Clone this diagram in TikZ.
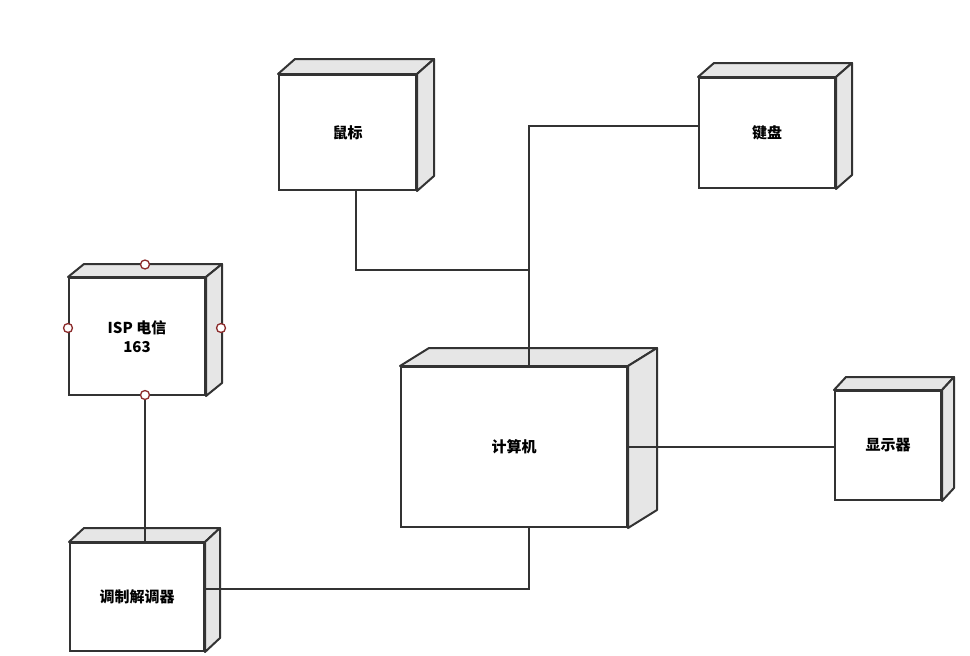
\documentclass[tikz,border=0pt]{standalone}
\usepackage{fontspec}
\newfontfamily\cjk{Noto Sans CJK SC}
\definecolor{ln}{HTML}{333333}
\definecolor{sd}{HTML}{E6E6E6}
\definecolor{pt}{HTML}{8B2A2A}
\tikzset{
 front/.style={draw=ln,line width=2pt,fill=white,font=\cjk\bfseries\fontsize{15}{19}\selectfont,align=center,inner sep=0pt},
 face/.style={draw=ln,line width=2pt,fill=sd,line join=round},
 wire/.style={draw=ln,line width=2pt},
 port/.style={circle,draw=pt,fill=white,line width=1.3pt,minimum size=9pt,inner sep=0pt}
}
\usetikzlibrary{calc}
\newcommand\dbox[8]{%
 \node[front,minimum width=#4 pt,minimum height=#5 pt] (#1) at (#2,#3) {#8};
 \path[face] (#1.north west) -- ++(#6,-#7) -- ($(#1.north east)+(#6,-#7)$) -- (#1.north east) -- cycle;
 \path[face] (#1.north east) -- ++(#6,-#7) -- ($(#1.south east)+(#6,-#7)$) -- (#1.south east) -- cycle;
}
\begin{document}
\begin{tikzpicture}[x=1pt,y=-1pt]
\useasboundingbox (0,0) rectangle (970,656);
\dbox{mouse}{347.5}{132.5}{137}{115}{17}{15}{鼠标}
\dbox{kbd}{767}{133}{136}{110}{16}{14}{键盘}
\dbox{isp}{137}{336.5}{136}{117}{16}{13}{ISP 电信\\163}
\dbox{pc}{514}{447}{226}{160}{29}{18}{计算机}
\dbox{disp}{888}{445.5}{106}{109}{12}{13}{显示器}
\dbox{modem}{137}{597}{134}{108}{15}{14}{调制解调器}
\coordinate (j1) at (529,270);
\coordinate (j2) at (529,126);
\coordinate (j3) at (529,589);
\coordinate (m) at (356,190);
\coordinate (ib) at (145,395);
\draw[wire] (m) |- (j1);
\draw[wire] (j2 -| kbd.west) -- (j2) -- (pc.north -| j2);
\draw[wire] (pc.east) -- (disp.west |- pc.east);
\draw[wire] (pc.south -| j3) -- (j3) -- (modem.east |- j3);
\draw[wire] (ib) -- (ib |- modem.north);
\node[port] (p1) at (145,264.5) {};
\node[port] (p2) at (isp.west |- 0,328) {};
\node[port] (p3) at (221,328) {};
\node[port] (p4) at (ib) {};
\end{tikzpicture}
\end{document}
